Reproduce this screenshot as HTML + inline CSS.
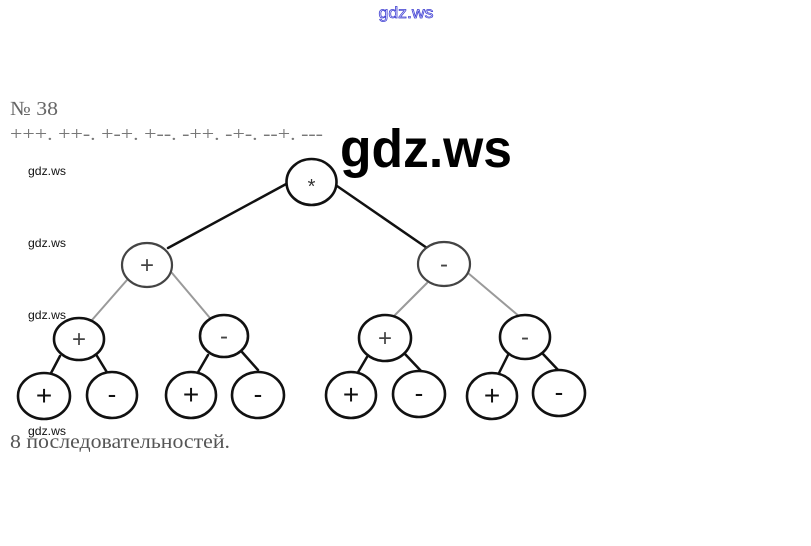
<!DOCTYPE html>
<html>
<head>
<meta charset="utf-8">
<style>
  html,body{margin:0;padding:0;background:#fff;}
  body{width:811px;height:546px;overflow:hidden;}
  svg{display:block;}
</style>
</head>
<body>
<svg width="811" height="546" viewBox="0 0 811 546" xmlns="http://www.w3.org/2000/svg">
  <rect x="0" y="0" width="811" height="546" fill="#fff"/>

  <!-- top blue watermark -->
  <text x="406" y="18" text-anchor="middle" font-family="Liberation Sans, sans-serif" font-size="16" fill="#e8e8ff" stroke="#3a3ad0" stroke-width="0.7" textLength="55" lengthAdjust="spacingAndGlyphs">gdz.ws</text>

  <!-- heading texts -->
  <text x="10" y="115" font-family="Liberation Serif, serif" font-size="20" fill="#666" textLength="48" lengthAdjust="spacingAndGlyphs">№ 38</text>
  <text x="10" y="140" font-family="Liberation Serif, serif" font-size="19" fill="#777" textLength="313" lengthAdjust="spacingAndGlyphs">+++. ++-. +-+. +--. -++. -+-. --+. ---</text>

  <!-- big watermark -->
  <text x="340" y="167" font-family="Liberation Sans, sans-serif" font-weight="bold" font-size="54" fill="#000" textLength="172" lengthAdjust="spacingAndGlyphs">gdz.ws</text>

  <!-- small watermarks -->
  <g font-family="Liberation Sans, sans-serif" font-size="12" fill="#111">
    <text x="28" y="175" textLength="38" lengthAdjust="spacingAndGlyphs">gdz.ws</text>
    <text x="28" y="247" textLength="38" lengthAdjust="spacingAndGlyphs">gdz.ws</text>
    <text x="28" y="319" textLength="38" lengthAdjust="spacingAndGlyphs">gdz.ws</text>
  </g>

  <!-- connectors -->
  <g stroke="#111" stroke-width="2.5" stroke-linecap="round" fill="none">
    <line x1="288" y1="183" x2="168" y2="248"/>
    <line x1="337" y1="186" x2="427" y2="248"/>
  </g>
  <g stroke="#9a9a9a" stroke-width="2" stroke-linecap="round" fill="none">
    <line x1="127" y1="280" x2="92" y2="320"/>
    <line x1="172" y1="273" x2="210" y2="318"/>
    <line x1="427" y1="283" x2="393" y2="317"/>
    <line x1="468" y1="273" x2="520" y2="317"/>
  </g>
  <g stroke="#111" stroke-width="2.5" stroke-linecap="round" fill="none">
    <line x1="60" y1="356" x2="50" y2="375"/>
    <line x1="97" y1="356" x2="108" y2="374"/>
    <line x1="208" y1="355" x2="197" y2="374"/>
    <line x1="242" y1="352" x2="258" y2="370"/>
    <line x1="367" y1="357" x2="357" y2="374"/>
    <line x1="405" y1="354" x2="422" y2="372"/>
    <line x1="508" y1="355" x2="498" y2="375"/>
    <line x1="543" y1="354" x2="560" y2="372"/>
  </g>

  <!-- nodes -->
  <g fill="#fff" stroke="#111" stroke-width="2.6">
    <ellipse cx="311.5" cy="182" rx="25" ry="23"/>
    <ellipse cx="147" cy="265" rx="25" ry="22" stroke="#444" stroke-width="2.2"/>
    <ellipse cx="444" cy="264" rx="26" ry="22" stroke="#444" stroke-width="2.2"/>
    <ellipse cx="79" cy="339" rx="25" ry="21"/>
    <ellipse cx="224" cy="336" rx="24" ry="21"/>
    <ellipse cx="385" cy="338" rx="26" ry="23"/>
    <ellipse cx="525" cy="337" rx="25" ry="22"/>
    <ellipse cx="44" cy="396" rx="26" ry="23"/>
    <ellipse cx="112" cy="395" rx="25" ry="23"/>
    <ellipse cx="191" cy="395" rx="25" ry="23"/>
    <ellipse cx="258" cy="395" rx="26" ry="23"/>
    <ellipse cx="351" cy="395" rx="25" ry="23"/>
    <ellipse cx="419" cy="394" rx="26" ry="23"/>
    <ellipse cx="492" cy="396" rx="25" ry="23"/>
    <ellipse cx="559" cy="393" rx="26" ry="23"/>
  </g>

  <!-- node labels -->
  <g font-family="Liberation Sans, sans-serif" text-anchor="middle">
    <text x="311.5" y="193" font-size="20" fill="#333">*</text>
    <text x="147" y="273" font-size="24" fill="#444">+</text>
    <text x="444" y="272" font-size="24" fill="#444">-</text>
    <text x="79" y="347" font-size="24" fill="#444">+</text>
    <text x="224" y="344" font-size="24" fill="#444">-</text>
    <text x="385" y="346" font-size="24" fill="#444">+</text>
    <text x="525" y="345" font-size="24" fill="#444">-</text>
    <text x="44" y="405" font-size="28" fill="#111">+</text>
    <text x="112" y="403" font-size="26" fill="#111">-</text>
    <text x="191" y="404" font-size="28" fill="#111">+</text>
    <text x="258" y="403" font-size="26" fill="#111">-</text>
    <text x="351" y="404" font-size="28" fill="#111">+</text>
    <text x="419" y="402" font-size="26" fill="#111">-</text>
    <text x="492" y="405" font-size="28" fill="#111">+</text>
    <text x="559" y="401" font-size="26" fill="#111">-</text>
  </g>

  <!-- bottom text -->
  <text x="10" y="448" font-family="Liberation Serif, serif" font-size="20" fill="#555" textLength="220" lengthAdjust="spacingAndGlyphs">8 последовательностей.</text>
  <text x="28" y="435" font-family="Liberation Sans, sans-serif" font-size="12" fill="#111" textLength="38" lengthAdjust="spacingAndGlyphs">gdz.ws</text>
</svg>
</body>
</html>
